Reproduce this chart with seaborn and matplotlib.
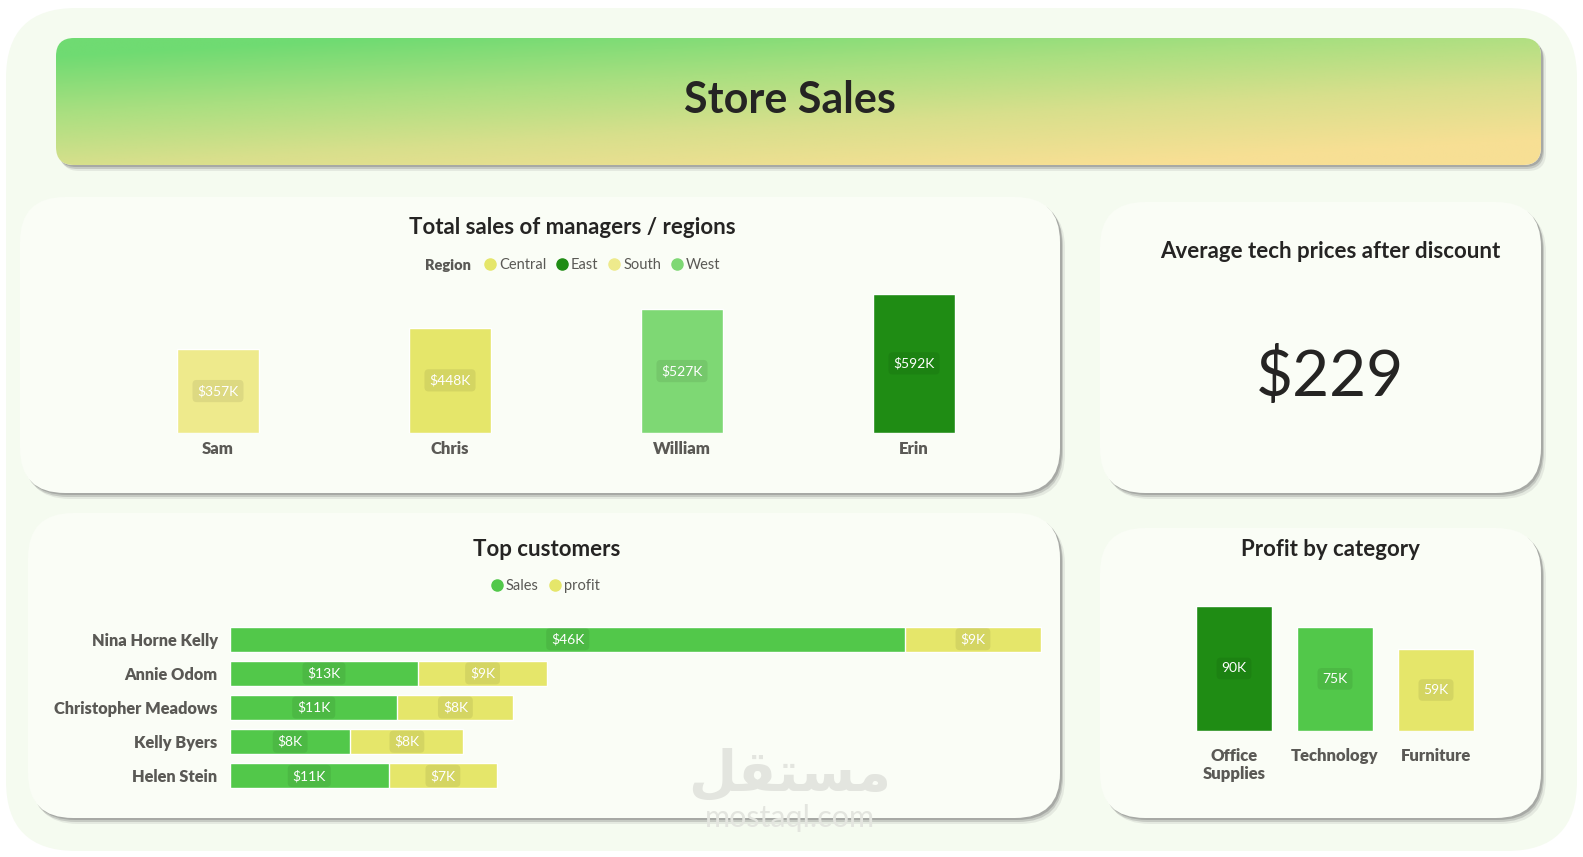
import matplotlib
matplotlib.use("Agg")
import matplotlib.pyplot as plt
from matplotlib.patches import FancyBboxPatch
from matplotlib.lines import Line2D
from matplotlib.colors import LinearSegmentedColormap
import numpy as np
import pandas as pd
import seaborn as sns

#%% Data
managers = ['Sam', 'Chris', 'William', 'Erin']
manager_regions = ['South', 'Central', 'West', 'East']
manager_sales_k = [357, 448, 527, 592]

regions = ['Central', 'East', 'South', 'West']

customers = ['Nina Horne Kelly', 'Annie Odom', 'Christopher Meadows', 'Kelly Byers', 'Helen Stein']
customer_sales_k = [46.0, 12.8, 11.4, 8.2, 10.8]
customer_profit_k = [9.2, 8.8, 7.9, 7.7, 7.4]

categories = ['Office\nSupplies', 'Technology', 'Furniture']
category_profit_k = [90, 75, 59]

avg_tech_price = 229

#%% Colours
region_colors = {'Central': '#e5e66a', 'East': '#1f8c14', 'South': '#eeea8c', 'West': '#7ed874'}
sales_color = '#52c84a'
profit_color = '#e5e66a'
category_colors = ['#1f8c14', '#52c84a', '#e5e66a']
title_color = '#252423'
label_color = '#5a5955'
card_color = '#fafdf6'
page_color = '#f5fbf0'

#%% Figure setup
sns.set_style("white")
plt.rcParams['font.family'] = ['Lato', 'DejaVu Sans']

W, H = 1583, 857
fig = plt.figure(figsize=(W / 100, H / 100), dpi=100)
fig.patch.set_facecolor('white')


def fig_rect(x0, y0, x1, y1):
    # pixel box (top-down) -> figure fraction rect
    return [x0 / W, 1 - y1 / H, (x1 - x0) / W, (y1 - y0) / H]


def fx(x):
    return x / W


def fy(y):
    return 1 - y / H


# background axes in pixel units
bg = fig.add_axes([0, 0, 1, 1], zorder=-1)
bg.set_xlim(0, W)
bg.set_ylim(0, H)
bg.axis('off')

bg.add_patch(FancyBboxPatch((6, 6), W - 12, H - 14,
                            boxstyle='round,pad=0,rounding_size=70',
                            fc=page_color, ec='none'))


def card(x0, y0, x1, y1, radius=45, color=card_color):
    w, h = x1 - x0, y1 - y0
    for dx, dy, a in [(5, -6, 0.12), (3, -4, 0.25), (2, -2, 0.35)]:
        bg.add_patch(FancyBboxPatch((x0 + dx, H - y1 + dy), w, h,
                                    boxstyle=f'round,pad=0,rounding_size={radius}',
                                    fc='#6e6e6e', ec='none', alpha=a))
    p = FancyBboxPatch((x0, H - y1), w, h,
                       boxstyle=f'round,pad=0,rounding_size={radius}',
                       fc=color, ec='none')
    bg.add_patch(p)
    return p


# header banner with gradient
header = card(56, 38, 1541, 165, radius=18)
u = np.linspace(0, 1, 400)[None, :]
v = np.linspace(0, 1, 80)[:, None]
t = np.clip(0.5 * u + 0.75 * v - 0.1, 0, 1)
cmap = LinearSegmentedColormap.from_list('hdr', ['#6fdb72', '#a8df80', '#d8df8c', '#f7df94'])
img = bg.imshow(t, cmap=cmap, extent=[56, 1541, H - 165, H - 38], origin='upper',
                aspect='auto', vmin=0, vmax=1, zorder=3)
img.set_clip_path(header)
bg.set_xlim(0, W)
bg.set_ylim(0, H)
fig.text(fx(790), fy(100), 'Store Sales', ha='center', va='center',
         fontsize=31, fontweight='bold', color=title_color)

card(20, 197, 1060, 493)
card(1100, 202, 1541, 493)
card(28, 513, 1060, 818)
card(1100, 528, 1541, 818)


def value_label(ax, x, y, text):
    ax.text(x, y, text, ha='center', va='center', fontsize=10, color='white',
            bbox=dict(boxstyle='round,pad=0.35,rounding_size=0.3',
                      fc=(0, 0, 0, 0.07), ec='none'))


def clean_axes(ax):
    ax.patch.set_alpha(0)
    sns.despine(ax=ax, left=True, bottom=True)
    ax.set_xlabel('')
    ax.set_ylabel('')


#%% Total sales of managers / regions
df_m = pd.DataFrame({'manager': managers, 'region': manager_regions, 'sales': manager_sales_k})
ax1 = fig.add_axes(fig_rect(102, 283, 1030, 433))
sns.barplot(data=df_m, x='manager', y='sales', hue='region', hue_order=regions,
            palette=region_colors, dodge=False, width=0.35, saturation=1,
            legend=False, ax=ax1)
for i, val in enumerate(manager_sales_k):
    value_label(ax1, i, val / 2, f'${val}K')
ax1.set_ylim(0, 638)
ax1.set_xlim(-0.5, 3.5)
ax1.set_yticks([])
clean_axes(ax1)
ax1.tick_params(axis='x', length=0, pad=6)
plt.setp(ax1.get_xticklabels(), fontweight='heavy', color=label_color, fontsize=12)

fig.text(fx(572), fy(227), 'Total sales of managers / regions', ha='center', va='center',
         fontsize=16, fontweight='bold', color=title_color)
fig.text(fx(471), fy(265), 'Region', ha='right', va='center',
         fontsize=10.5, fontweight='heavy', color=label_color)
handles = [Line2D([], [], marker='o', ls='', color=region_colors[r], markersize=8) for r in regions]
fig.legend(handles, regions, loc='center left', bbox_to_anchor=(fx(474), fy(265)),
           ncol=4, frameon=False, handletextpad=0.0, columnspacing=0.5,
           fontsize=10.5, labelcolor=label_color, borderpad=0, handlelength=1.2)

#%% Average tech price card
fig.text(fx(1330), fy(252), 'Average tech prices after discount', ha='center', va='center',
         fontsize=16, fontweight='bold', color=title_color)
fig.text(fx(1330), fy(377), f'${avg_tech_price}', ha='center', va='center',
         fontsize=46, color=title_color)

#%% Top customers
df_c = pd.DataFrame({'customer': customers, 'sales': customer_sales_k, 'profit': customer_profit_k})
df_c['total'] = df_c['sales'] + df_c['profit']
ax2 = fig.add_axes(fig_rect(230, 622, 1042, 793))
sns.barplot(data=df_c, x='total', y='customer', orient='h', color=profit_color,
            width=0.73, saturation=1, ax=ax2)
sns.barplot(data=df_c, x='sales', y='customer', orient='h', color=sales_color,
            width=0.73, saturation=1, ax=ax2)
for i, (s, p) in enumerate(zip(customer_sales_k, customer_profit_k)):
    value_label(ax2, s / 2, i, f'${s:.0f}K')
    value_label(ax2, s + p / 2, i, f'${p:.0f}K')
ax2.set_xlim(0, 55.3)
ax2.set_ylim(4.5, -0.5)
ax2.set_xticks([])
clean_axes(ax2)
ax2.tick_params(axis='y', length=0, pad=9)
plt.setp(ax2.get_yticklabels(), fontweight='heavy', color=label_color, fontsize=11.8)

fig.text(fx(547), fy(549), 'Top customers', ha='center', va='center',
         fontsize=16, fontweight='bold', color=title_color)
handles = [Line2D([], [], marker='o', ls='', color=c, markersize=8) for c in [sales_color, profit_color]]
fig.legend(handles, ['Sales', 'profit'], loc='center', bbox_to_anchor=(fx(544), fy(586)),
           ncol=2, frameon=False, handletextpad=0.0, columnspacing=0.5,
           fontsize=10.5, labelcolor=label_color, borderpad=0, handlelength=1.2)

#%% Profit by category
df_p = pd.DataFrame({'category': categories, 'profit': category_profit_k})
ax3 = fig.add_axes(fig_rect(1183.5, 592, 1486.5, 731))
sns.barplot(data=df_p, x='category', y='profit', hue='category',
            palette=category_colors, width=0.76, saturation=1, legend=False, ax=ax3)
for i, val in enumerate(category_profit_k):
    value_label(ax3, i, val / 2, f'{val}K')
ax3.set_ylim(0, 100)
ax3.set_xlim(-0.5, 2.5)
ax3.set_yticks([])
clean_axes(ax3)
ax3.tick_params(axis='x', length=0, pad=12)
plt.setp(ax3.get_xticklabels(), fontweight='heavy', color=label_color, fontsize=12,
         linespacing=1.2)

fig.text(fx(1330), fy(549), 'Profit by category', ha='center', va='center',
         fontsize=16, fontweight='bold', color=title_color)

#%% Watermark
fig.text(fx(790), fy(776), '\uFEDE\uFED8\uFE98\uFEB4\uFEE3', ha='center', va='center',
         fontsize=40, fontweight='bold', color='#e3e5df', family=['DejaVu Sans'])
fig.text(fx(790), fy(818), 'mostaql.com', ha='center', va='center',
         fontsize=22, color='#e3e5df')

fig.savefig('out.png', dpi=100)
